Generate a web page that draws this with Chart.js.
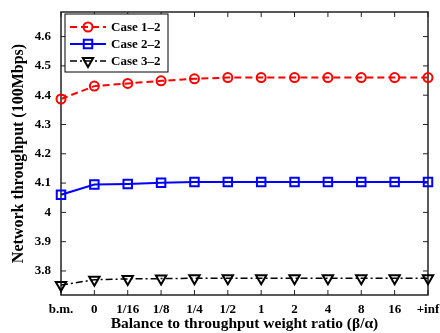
<!DOCTYPE html>
<html>
<head>
<meta charset="utf-8">
<script src="https://cdn.jsdelivr.net/npm/chart.js@4"></script>
<style>
  html, body { margin: 0; padding: 0; background: #fff; }
</style>
</head>
<body>
<canvas id="lineChart" width="440" height="333"></canvas>
<script>
// data
const ratios = ['b.m.', '0', '1/16', '1/8', '1/4', '1/2', '1', '2', '4', '8', '16', '+inf'];
const case12 = [4.387, 4.431, 4.440, 4.449, 4.456, 4.460, 4.460, 4.460, 4.460, 4.460, 4.460, 4.460];
const case22 = [4.060, 4.095, 4.097, 4.101, 4.104, 4.104, 4.104, 4.104, 4.104, 4.104, 4.104, 4.104];
const case32 = [3.752, 3.770, 3.773, 3.774, 3.775, 3.775, 3.775, 3.775, 3.775, 3.775, 3.775, 3.775];
const yTicks = [3.8, 3.9, 4.0, 4.1, 4.2, 4.3, 4.4, 4.5, 4.6];
const seriesNames = ['Case 1\u20132', 'Case 2\u20132', 'Case 3\u20132'];

const serif = '"Liberation Serif", "Times New Roman", serif';

// box around the plot with inward ticks on all four sides
const framePlugin = {
  id: 'frame',
  beforeDatasetsDraw(chart) {
    const {ctx, chartArea: a, scales} = chart;
    ctx.save();
    ctx.strokeStyle = '#222';
    ctx.lineWidth = 1.5;
    ctx.strokeRect(a.left, a.top, a.right - a.left, a.bottom - a.top);
    ctx.lineWidth = 1;
    ctx.beginPath();
    ratios.forEach((r, i) => {
      const x = scales.x.getPixelForValue(i);
      ctx.moveTo(x, a.bottom); ctx.lineTo(x, a.bottom - 5);
      ctx.moveTo(x, a.top); ctx.lineTo(x, a.top + 5);
    });
    yTicks.forEach(v => {
      const y = scales.y.getPixelForValue(v);
      ctx.moveTo(a.left, y); ctx.lineTo(a.left + 5, y);
      ctx.moveTo(a.right, y); ctx.lineTo(a.right - 5, y);
    });
    ctx.stroke();
    ctx.restore();
  }
};

// matlab style legend: line sample with marker in a boxed frame
const legendPlugin = {
  id: 'boxLegend',
  afterDraw(chart) {
    const {ctx, chartArea: a} = chart;
    const x0 = a.left + 4, y0 = a.top + 2, w = 103, h = 58;
    ctx.save();
    ctx.fillStyle = '#fff';
    ctx.fillRect(x0, y0, w, h);
    ctx.strokeStyle = '#000';
    ctx.lineWidth = 1;
    ctx.strokeRect(x0, y0, w, h);
    chart.data.datasets.forEach((ds, i) => {
      const cy = y0 + 13 + i * 17;
      ctx.save();
      ctx.strokeStyle = ds.borderColor;
      ctx.lineWidth = ds.borderWidth;
      ctx.setLineDash(ds.borderDash || []);
      ctx.beginPath();
      ctx.moveTo(x0 + 5, cy);
      ctx.lineTo(x0 + 41, cy);
      ctx.stroke();
      ctx.setLineDash([]);
      ctx.lineWidth = ds.pointBorderWidth;
      ctx.fillStyle = 'rgba(0,0,0,0)';
      Chart.helpers.drawPoint(ctx, {
        pointStyle: ds.pointStyle,
        radius: ds.pointRadius,
        rotation: ds.pointRotation || 0,
        borderWidth: ds.pointBorderWidth
      }, x0 + 23, cy);
      ctx.restore();
      ctx.fillStyle = '#000';
      ctx.font = 'bold 13px ' + serif;
      ctx.textBaseline = 'middle';
      ctx.fillText(ds.label, x0 + 46, cy + 1);
    });
    ctx.restore();
  }
};

const ctx = document.getElementById('lineChart').getContext('2d');
const lineChart = new Chart(ctx, {
  type: 'line',
  data: {
    labels: ratios,
    datasets: [{
      label: seriesNames[0],
      data: case12,
      borderColor: '#ff0000',
      borderWidth: 2,
      borderDash: [7, 4],
      pointStyle: 'circle',
      pointRadius: 4.5,
      pointBorderWidth: 2,
      pointBackgroundColor: 'rgba(0,0,0,0)',
      pointBorderColor: '#ff0000',
      clip: false
    }, {
      label: seriesNames[1],
      data: case22,
      borderColor: '#0000ff',
      borderWidth: 2,
      pointStyle: 'rect',
      pointRadius: 6,
      pointBorderWidth: 2,
      pointBackgroundColor: 'rgba(0,0,0,0)',
      pointBorderColor: '#0000ff',
      clip: false
    }, {
      label: seriesNames[2],
      data: case32,
      borderColor: '#000000',
      borderWidth: 1.5,
      borderDash: [7, 3, 2, 3],
      pointStyle: 'triangle',
      pointRotation: 180,
      pointRadius: 6,
      pointBorderWidth: 2,
      pointBackgroundColor: 'rgba(0,0,0,0)',
      pointBorderColor: '#000000',
      clip: false
    }]
  },
  options: {
    responsive: false,
    animation: false,
    layout: { padding: { top: 12, right: 12, left: 0, bottom: 0 } },
    plugins: {
      legend: { display: false },
      tooltip: { enabled: false }
    },
    scales: {
      x: {
        offset: false,
        grid: { display: false, drawTicks: false },
        border: { display: false },
        ticks: {
          color: '#000',
          padding: 7,
          maxRotation: 0,
          autoSkip: false,
          font: { family: serif, size: 13, weight: 'bold' }
        },
        title: {
          display: true,
          text: 'Balance to throughput weight ratio (\u03b2/\u03b1)',
          color: '#000',
          padding: { top: 0, bottom: 0 },
          font: { family: serif, size: 15.5, weight: 'bold' }
        },
        afterFit(scale) {
          scale.height = 38;
          scale.paddingLeft = 0;
          scale.paddingRight = 0;
        }
      },
      y: {
        min: 3.718,
        max: 4.684,
        grid: { display: false, drawTicks: false },
        border: { display: false },
        afterBuildTicks(scale) { scale.ticks = yTicks.map(v => ({ value: v })); },
        ticks: {
          color: '#000',
          padding: 10,
          callback: v => String(+v.toFixed(1)),
          font: { family: serif, size: 13, weight: 'bold' }
        },
        title: {
          display: true,
          text: 'Network throughput (100Mbps)',
          color: '#000',
          padding: { top: 9, bottom: 0 },
          font: { family: serif, size: 16, weight: 'bold' }
        },
        afterFit(scale) {
          scale.width = 61;
          scale.paddingTop = 0;
          scale.paddingBottom = 0;
        }
      }
    }
  },
  plugins: [framePlugin, legendPlugin]
});
</script>
</body>
</html>
